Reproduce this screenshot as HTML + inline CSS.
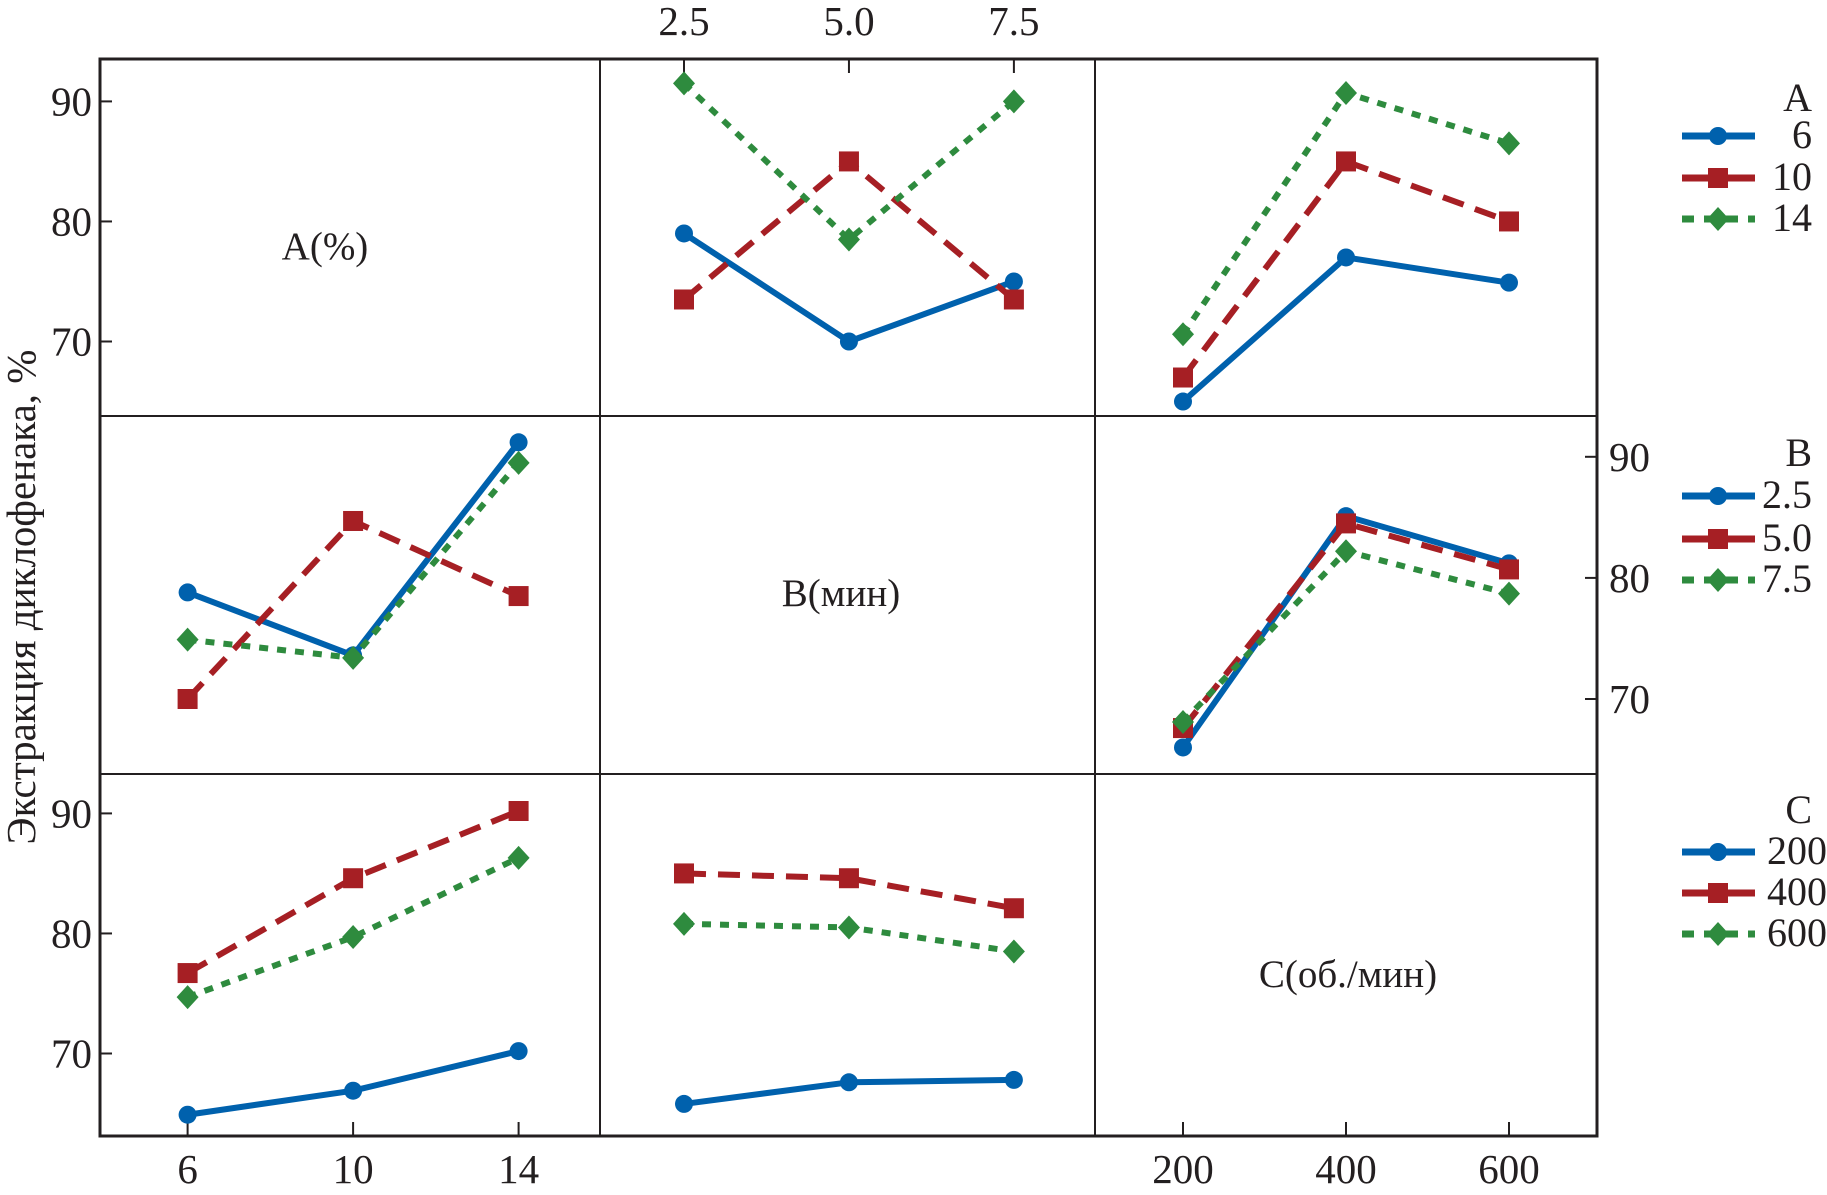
<!DOCTYPE html>
<html><head><meta charset="utf-8"><style>
html,body{margin:0;padding:0;background:#fff;}
svg{display:block;font-family:"Liberation Serif",serif;}
</style></head><body>
<svg id="chart" width="1827" height="1195" viewBox="0 0 1827 1195" xmlns="http://www.w3.org/2000/svg"></svg>
<script>
// ---- data ----
const levelsA = [6, 10, 14];
const levelsB = [2.5, 5.0, 7.5];
const levelsC = [200, 400, 600];
const tickLabelsA = ["6", "10", "14"];
const tickLabelsB = ["2.5", "5.0", "7.5"];
const tickLabelsC = ["200", "400", "600"];
const yTicks = [70, 80, 90];
// Row A: series by A level, vs B (middle panel)
const rowA_vsB_6 = [79, 70, 75];
const rowA_vsB_10 = [73.5, 85, 73.5];
const rowA_vsB_14 = [91.5, 78.5, 90];
// Row A: vs C (right panel)
const rowA_vsC_6 = [65, 77, 74.9];
const rowA_vsC_10 = [67, 85, 80];
const rowA_vsC_14 = [70.6, 90.7, 86.5];
// Row B: by B level, vs A (left panel)
const rowB_vsA_25 = [78.8, 73.6, 91.2];
const rowB_vsA_50 = [70, 84.7, 78.5];
const rowB_vsA_75 = [74.9, 73.4, 89.5];
// Row B: vs C (right panel)
const rowB_vsC_25 = [66, 85.1, 81.2];
const rowB_vsC_50 = [67.6, 84.5, 80.7];
const rowB_vsC_75 = [68.1, 82.2, 78.7];
// Row C: by C level, vs A (left panel)
const rowC_vsA_200 = [64.9, 66.9, 70.2];
const rowC_vsA_400 = [76.7, 84.6, 90.2];
const rowC_vsA_600 = [74.7, 79.7, 86.3];
// Row C: vs B (middle panel)
const rowC_vsB_200 = [65.8, 67.6, 67.8];
const rowC_vsB_400 = [85, 84.6, 82.1];
const rowC_vsB_600 = [80.8, 80.5, 78.5];

// ---- layout ----
const svg = document.getElementById('chart');
const NS = 'http://www.w3.org/2000/svg';
function mk(tag, attrs, parent){const e=document.createElementNS(NS,tag);for(const k in attrs)e.setAttribute(k,attrs[k]);(parent||svg).appendChild(e);return e;}

const L=100,R=1597,T=59,B=1136,r1=416,r2=774,c1=600,c2=1095;
const colX = [[187.6,518.6],[684,1013.9],[1183,1509]];
const colLevels = [levelsA, levelsB, levelsC];
const rowY = [[90,101.4,70,341.5],[90,456.8,70,699],[90,813.4,70,1053.5]];
function xScale(col, v){const lv=colLevels[col];const [a,b]=colX[col];return a+(v-lv[0])/(lv[2]-lv[0])*(b-a);}
function yScale(row, v){const [v1,p1,v2,p2]=rowY[row];return p1+(v-v1)/(v2-v1)*(p2-p1);}

let e;
e=mk('rect',{x:L,y:T,width:R-L,height:B-T,fill:'none',stroke:'#231f20','stroke-width':3});

[[c1,T,c1,B],[c2,T,c2,B],[L,r1,R,r1],[L,r2,R,r2]].forEach(d=>{
 e=mk('line',{x1:d[0],y1:d[1],x2:d[2],y2:d[3],stroke:'#231f20','stroke-width':2});
 
});

function txt(s,x,y,size,anchor,name){const t=mk('text',{x:x,y:y,'font-size':size,'text-anchor':anchor||'middle',fill:'#231f20'});t.textContent=s;return t;}

[0,2].forEach(row=>{yTicks.forEach(v=>{const y=yScale(row,v);
 e=mk('line',{x1:L,y1:y,x2:L+12,y2:y,stroke:'#231f20','stroke-width':2});
 txt(String(v),L-8,y+14,41,'end','y-tick-label');});});
yTicks.forEach(v=>{const y=yScale(1,v);
 e=mk('line',{x1:R-12,y1:y,x2:R,y2:y,stroke:'#231f20','stroke-width':2});
 txt(String(v),R+12,y+14,41,'start','y-tick-label-right');});
levelsB.forEach((v,i)=>{const x=xScale(1,v);
 e=mk('line',{x1:x,y1:T,x2:x,y2:T+14,stroke:'#231f20','stroke-width':2});
 txt(tickLabelsB[i],x,35,41,'middle','x-tick-label-top');});
[[0,levelsA,tickLabelsA],[2,levelsC,tickLabelsC]].forEach(([col,lv,lb])=>{lv.forEach((v,i)=>{const x=xScale(col,v);
 e=mk('line',{x1:x,y1:B-14,x2:x,y2:B,stroke:'#231f20','stroke-width':2});
 txt(lb[i],x,1183,41,'middle','x-tick-label-bottom');});});

txt('A(%)',325,259,39,'middle','panel-label-a');
txt('B(мин)',841,606,39,'middle','panel-label-b');
txt('C(об./мин)',1348,987,39,'middle','panel-label-c');
const yt=txt('Экстракция диклофенака, %',0,0,41,'middle','y-axis-title');
yt.setAttribute('transform','translate(35,597) rotate(-90)');

const styles=[
 {color:'#0061ad',dash:'',marker:'circle',name:'blue'},
 {color:'#a61f24',dash:'22,12',marker:'square',name:'red'},
 {color:'#2e8b3e',dash:'9,9',marker:'diamond',name:'green'}];
function marker(s,x,y,name){let m;
 if(s.marker==='circle') m=mk('circle',{cx:x,cy:y,r:9,fill:s.color});
 else if(s.marker==='square') m=mk('rect',{x:x-10,y:y-10,width:20,height:20,fill:s.color});
 else m=mk('polygon',{points:`${x},${y-12} ${x+11},${y} ${x},${y+12} ${x-11},${y}`,fill:s.color});
 }
function series(row,col,lv,vals,si,name){const s=styles[si];
 const pts=lv.map((v,i)=>[xScale(col,v),yScale(row,vals[i])]);
 const p=mk('polyline',{points:pts.map(p=>p.join(',')).join(' '),fill:'none',stroke:s.color,'stroke-width':6,'stroke-dasharray':s.dash,'stroke-linejoin':'round'});
 
 pts.forEach(pt=>marker(s,pt[0],pt[1],name+'-point'));}

series(0,1,levelsB,rowA_vsB_6,0,'a6-vs-b');series(0,1,levelsB,rowA_vsB_10,1,'a10-vs-b');series(0,1,levelsB,rowA_vsB_14,2,'a14-vs-b');
series(0,2,levelsC,rowA_vsC_6,0,'a6-vs-c');series(0,2,levelsC,rowA_vsC_10,1,'a10-vs-c');series(0,2,levelsC,rowA_vsC_14,2,'a14-vs-c');
series(1,0,levelsA,rowB_vsA_25,0,'b25-vs-a');series(1,0,levelsA,rowB_vsA_50,1,'b50-vs-a');series(1,0,levelsA,rowB_vsA_75,2,'b75-vs-a');
series(1,2,levelsC,rowB_vsC_25,0,'b25-vs-c');series(1,2,levelsC,rowB_vsC_50,1,'b50-vs-c');series(1,2,levelsC,rowB_vsC_75,2,'b75-vs-c');
series(2,0,levelsA,rowC_vsA_200,0,'c200-vs-a');series(2,0,levelsA,rowC_vsA_400,1,'c400-vs-a');series(2,0,levelsA,rowC_vsA_600,2,'c600-vs-a');
series(2,1,levelsB,rowC_vsB_200,0,'c200-vs-b');series(2,1,levelsB,rowC_vsB_400,1,'c400-vs-b');series(2,1,levelsB,rowC_vsB_600,2,'c600-vs-b');

function legend(title,labels,ys,textX,name){
 txt(title,1812,ys[0],40,'end',name+'-title');
 labels.forEach((lb,i)=>{const y=ys[i+1];const s=styles[i];
  const l=mk('line',{x1:1682,y1:y-12,x2:1755,y2:y-12,stroke:s.color,'stroke-width':7,'stroke-dasharray':s.dash==='9,9'?'12,10':''});
  
  marker(s,1718,y-12,name+'-entry-marker');
  txt(lb,textX,y,40,'end',name+'-entry-label');});}
legend('A',['6','10','14'],[111,148,190,231],1812,'legend-a');
legend('B',['2.5','5.0','7.5'],[466,508,551,592],1812,'legend-b');
legend('C',['200','400','600'],[823,864,905,946],1827,'legend-c');
</script>
</body></html>
